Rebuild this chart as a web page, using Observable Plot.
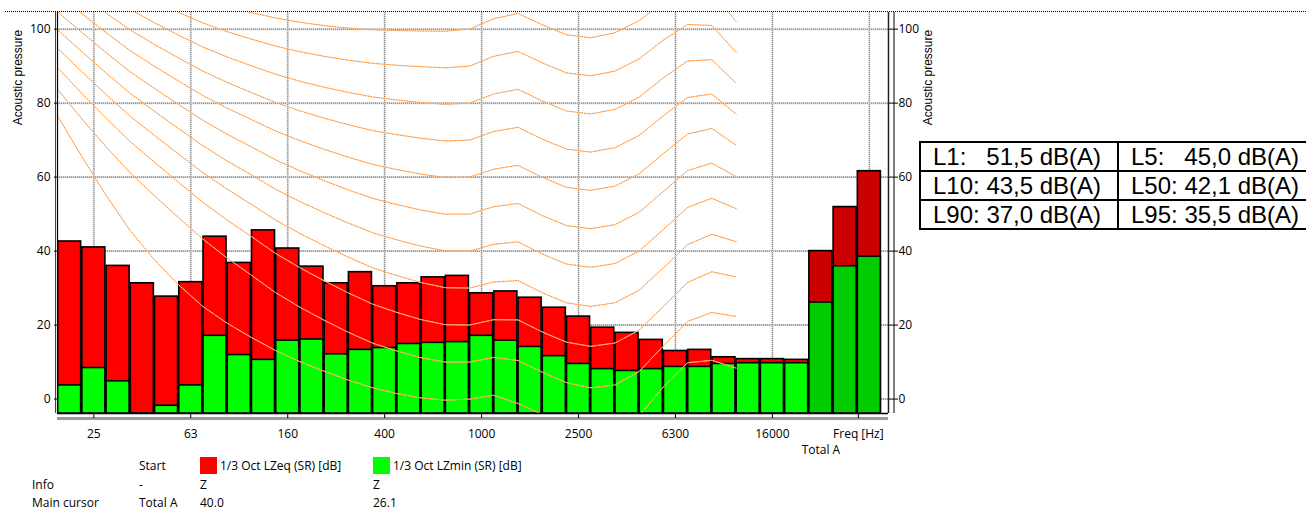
<!DOCTYPE html>
<html>
<head>
<meta charset="utf-8">
<script src="https://cdn.jsdelivr.net/npm/d3@7"></script>
<script src="https://cdn.jsdelivr.net/npm/@observablehq/plot@0.6"></script>
<style>
  html, body { margin: 0; padding: 0; background: #fff; overflow: hidden; }
  #wrap { position: relative; width: 1306px; height: 511px; overflow: hidden;
          font-family: 'Open Sans', sans-serif; font-size: 12px; color: #000; }
  #wrap svg { position: absolute; left: 0; top: 0; }
  #topline { position: absolute; left: 5px; top: 11px; width: 1301px; border-top: 1px dotted #000; }
  .lg { position: absolute; line-height: 12px; white-space: pre; }
  .sw { position: absolute; width: 17px; height: 17px; }
  #stats { position: absolute; left: 919px; top: 141px; border-collapse: collapse;
           font-family: 'Liberation Sans', Arial, sans-serif; font-size: 24px; width: 520px; }
  #stats td { border: 2px solid #000; height: 29px; padding: 0 0 0 12px; line-height: 26px;
              white-space: pre; box-sizing: border-box; }
  #stats td.c1 { width: 198px; }
</style>
</head>
<body>
<div id="wrap">
  <div id="topline"></div>
</div>
<script>
// 1/3-octave bands followed by the three overall totals
const bands = ["20","25","31.5","40","50","63","80","100","125","160","200","250","315","400","500","630","800",
  "1000","1250","1600","2000","2500","3150","4000","5000","6300","8000","10000","12500","16000","20000",
  "Total A","Total C","Total Z"];

// 1/3 Oct LZeq (SR) [dB]
const lzeq = [42.6, 41.0, 36.0, 31.3, 27.7, 31.6, 43.9, 36.8, 45.6, 40.7, 35.8, 31.3, 34.3, 30.5, 31.3, 32.9, 33.3,
  28.6, 29.1, 27.4, 24.7, 22.3, 19.3, 17.9, 16.0, 13.0, 13.3, 11.3, 10.8, 10.8, 10.6,
  40.0, 51.9, 61.6];

// 1/3 Oct LZmin (SR) [dB]
const lzmin = [3.7, 8.4, 4.8, -5.0, -1.8, 3.7, 17.1, 11.9, 10.6, 15.8, 16.1, 12.1, 13.3, 13.8, 14.9, 15.2, 15.4,
  17.1, 15.8, 14.1, 11.6, 9.5, 8.1, 7.6, 8.1, 8.7, 8.7, 9.5, 9.7, 9.7, 9.7,
  26.1, 35.9, 38.5];

// Labelled x ticks (band index) and their texts
const xTickBands = [1, 5, 9, 13, 17, 21, 25, 29, 33];
const xTickLabels = ["25", "63", "160", "400", "1000", "2500", "6300", "16000", "Freq [Hz]"];
const yTicks = [0, 20, 40, 60, 80, 100];

// Equal-loudness contours (ISO 226:2003), 20 Hz .. 12.5 kHz, one array per phon level
const phonLevels = [0, 10, 20, 30, 40, 50, 60, 70, 80, 90, 100];
const phon0 = [76.55,65.62,55.12,45.53,37.63,30.86,25.02,20.51,16.65,13.12,10.09,7.54,5.11,3.06,1.48,0.30,-0.30,-0.01,1.03,-1.19,-4.11,-7.05,-9.03,-8.49,-4.48,3.28,9.83,10.48,8.38];
const phon10 = [83.75,75.76,68.21,61.14,54.96,49.01,43.24,38.13,33.48,28.77,24.84,21.33,18.05,15.14,12.98,11.18,9.99,10.00,11.26,10.43,7.27,4.45,3.04,3.80,7.46,14.35,20.98,23.43,22.33];
const phon20 = [89.58,82.65,75.98,69.62,64.02,58.55,53.19,48.38,43.94,39.37,35.51,31.99,28.69,25.67,23.43,21.48,20.10,20.01,21.46,21.40,18.15,15.38,14.26,15.14,18.63,25.02,31.52,34.43,33.04];
const phon30 = [94.85,88.52,82.36,76.46,71.26,66.20,61.22,56.76,52.64,48.38,44.78,41.47,38.36,35.50,33.37,31.49,30.11,30.01,31.65,32.04,28.76,26.03,25.04,26.02,29.42,35.48,41.74,44.57,42.55];
const phon40 = [99.85,93.94,88.17,82.63,77.78,73.08,68.48,64.37,60.59,56.70,53.41,50.40,47.58,44.98,43.05,41.34,40.06,40.01,41.82,42.51,39.23,36.51,35.61,36.65,40.01,45.83,51.80,54.28,51.49];
const phon50 = [104.72,99.14,93.69,88.49,83.96,79.61,75.36,71.61,68.17,64.68,61.72,59.04,56.55,54.26,52.59,51.10,49.98,50.01,51.99,52.88,49.62,46.91,46.05,47.15,50.48,56.11,61.76,63.78,60.13];
const phon60 = [109.51,104.23,99.08,94.18,89.96,85.94,82.05,78.65,75.56,72.47,69.86,67.53,65.39,63.45,62.05,60.81,59.89,60.01,62.15,63.19,59.96,57.26,56.42,57.57,60.89,66.36,71.66,73.16,68.63];
const phon70 = [114.26,109.25,104.38,99.78,95.87,92.18,88.64,85.60,82.86,80.17,77.92,75.94,74.16,72.58,71.47,70.50,69.78,70.01,72.32,73.47,70.28,67.58,66.76,67.95,71.26,76.59,81.54,82.46,77.04];
const phon80 = [118.99,114.23,109.65,105.34,101.72,98.36,95.17,92.48,90.09,87.82,85.92,84.31,82.89,81.68,80.86,80.17,79.67,80.01,82.48,83.74,80.59,77.88,77.07,78.31,81.62,86.81,91.41,91.74,85.41];
const phon90 = [123.71,119.20,114.88,110.87,107.55,104.51,101.67,99.33,97.29,95.43,93.89,92.65,91.60,90.76,90.24,89.84,89.55,90.01,92.65,94.00,90.88,88.18,87.38,88.66,91.96,97.02,101.26,100.99,93.75];
const phon100 = [128.41,124.15,120.11,116.38,113.35,110.65,108.16,106.17,104.48,103.03,101.85,100.97,100.30,99.83,99.62,99.50,99.44,100.01,102.81,104.25,101.18,98.48,97.67,99.00,102.30,107.23,111.11,110.23,102.07];
const contours = [phon0, phon10, phon20, phon30, phon40, phon50, phon60, phon70, phon80, phon90, phon100];

// Statistical levels
const statNames = ["L1", "L5", "L10", "L50", "L90", "L95"];
const statValues = [51.5, 45.0, 43.5, 42.1, 37.0, 35.5];

// ---- derived tables ----
const rows = bands.map((b, i) => ({i, band: b, eq: lzeq[i], min: lzmin[i], total: b.startsWith("Total")}));
const bandRows = rows.filter(d => !d.total);
const totalRows = rows.filter(d => d.total);
const curveRows = contours.flatMap((arr, k) => arr.map((v, i) => ({i, level: v, phon: phonLevels[k]})));

const yMin = -3.9, yMax = 104.5;
const xMax = bands.length + 0.29;

const barOpts = (key, fill) => ({
  x1: "i", x2: d => d.i + 1, y1: () => yMin, y2: key,
  fill, stroke: "#000", strokeWidth: 1.6, insetLeft: 0.6, insetRight: 0.6, clip: true
});

const titleOpts = {rotate: -90, dy: 65, textAnchor: "middle", lineAnchor: "middle",
  fontFamily: "'Liberation Sans', Arial, sans-serif", fontSize: 12};

const chart = Plot.plot({
  width: 1306, height: 455,
  marginLeft: 57, marginRight: 418, marginTop: 12, marginBottom: 42,
  style: {fontFamily: "'Open Sans', sans-serif", fontSize: "12px", background: "transparent", overflow: "visible"},
  x: {type: "linear", domain: [0, xMax]},
  y: {domain: [yMin, yMax]},
  marks: [
    // grid
    Plot.ruleY(yTicks, {stroke: "#d8d8d8", strokeWidth: 2}),
    Plot.ruleY(yTicks, {stroke: "#707070", strokeDasharray: "1,1"}),
    Plot.ruleX(xTickBands, {x: d => d + 0.5, stroke: "#d8d8d8", strokeWidth: 2}),
    Plot.ruleX(xTickBands, {x: d => d + 0.5, stroke: "#808080", strokeDasharray: "1,1"}),
    // bars: LZeq behind, LZmin in front
    Plot.rect(bandRows, barOpts("eq", "#ff0000")),
    Plot.rect(totalRows, barOpts("eq", "#cc0000")),
    Plot.rect(bandRows, barOpts("min", "#00ff00")),
    Plot.rect(totalRows, barOpts("min", "#00cc00")),
    // equal-loudness contours
    Plot.line(curveRows, {x: "i", y: "level", z: "phon", stroke: "#ffe3c8", strokeWidth: 1, clip: true}),
    Plot.line(curveRows, {x: "i", y: "level", z: "phon", stroke: "#ff8a22", strokeWidth: 1, strokeDasharray: "1,1.6", clip: true}),
    // frame lines
    Plot.ruleX([0], {stroke: "#000", strokeWidth: 1.2}),
    Plot.ruleX([0], {dx: -2, stroke: "#444", strokeWidth: 1}),
    Plot.ruleX([xMax], {stroke: "#222", strokeWidth: 1.5}),
    Plot.ruleX([xMax], {dx: 5.5, stroke: "#000", strokeWidth: 1}),
    Plot.ruleY([yMin], {dy: 5, stroke: "#9a9a9a", strokeWidth: 3}),
    Plot.ruleY([yMin], {stroke: "#000", strokeWidth: 1.5}),
    // axes
    Plot.axisY({anchor: "left", ticks: yTicks, tickSize: 3, tickPadding: 4, label: null}),
    Plot.axisY({anchor: "right", ticks: yTicks, tickSize: 9, tickPadding: 1, label: null}),
    Plot.axisX({ticks: xTickBands.slice(0, -1).map(d => d + 0.5),
      tickFormat: d => xTickLabels[xTickBands.indexOf(d - 0.5)], tickSize: 5, tickPadding: 11, label: null}),
    Plot.axisX({ticks: xTickBands.slice(-1).map(d => d + 0.5),
      tickFormat: () => xTickLabels[xTickLabels.length - 1], tickSize: 5, tickPadding: 11, dx: -11, label: null}),
    Plot.axisX({ticks: [31.5], tickFormat: () => bands[31], tickSize: 0, tickPadding: 32, label: null}),
    // axis titles
    Plot.text(["Acoustic pressure"], {...titleOpts, frameAnchor: "top-left", dx: -39}),
    Plot.text(["Acoustic pressure"], {...titleOpts, frameAnchor: "top-right", dx: 40})
  ]
});

const wrap = document.getElementById("wrap");
wrap.insertBefore(chart, wrap.firstChild);

// cursor legend underneath
const totalIdx = bands.indexOf("Total A");
const legendItems = [
  ["Start", 139, 460], ["1/3 Oct LZeq (SR) [dB]", 220, 460], ["1/3 Oct LZmin (SR) [dB]", 393, 460],
  ["Info", 32, 479], ["-", 139, 479], ["Z", 200, 479], ["Z", 373, 479],
  ["Main cursor", 32, 497], [bands[totalIdx], 139, 497],
  [lzeq[totalIdx].toFixed(1), 200, 497], [lzmin[totalIdx].toFixed(1), 373, 497]
];
for (const [t, x, y] of legendItems) {
  const s = document.createElement("div");
  s.className = "lg"; s.textContent = t;
  s.style.left = x + "px"; s.style.top = y + "px";
  wrap.appendChild(s);
}
for (const [c, x] of [["#ff0000", 200], ["#00ff00", 373]]) {
  const s = document.createElement("div");
  s.className = "sw"; s.style.background = c;
  s.style.left = x + "px"; s.style.top = "457px";
  wrap.appendChild(s);
}

// statistical levels table
const fmt = (name, v) => (name + ":").padEnd(5, " ") + (name.length === 2 ? " " : "") + v.toFixed(1).replace(".", ",") + " dB(A)";
const table = document.createElement("table");
table.id = "stats";
for (let r = 0; r < 3; r++) {
  const tr = document.createElement("tr");
  for (let c = 0; c < 2; c++) {
    const k = r * 2 + c;
    const td = document.createElement("td");
    if (c === 0) td.className = "c1";
    td.textContent = fmt(statNames[k], statValues[k]);
    tr.appendChild(td);
  }
  table.appendChild(tr);
}
wrap.appendChild(table);
</script>
</body>
</html>
